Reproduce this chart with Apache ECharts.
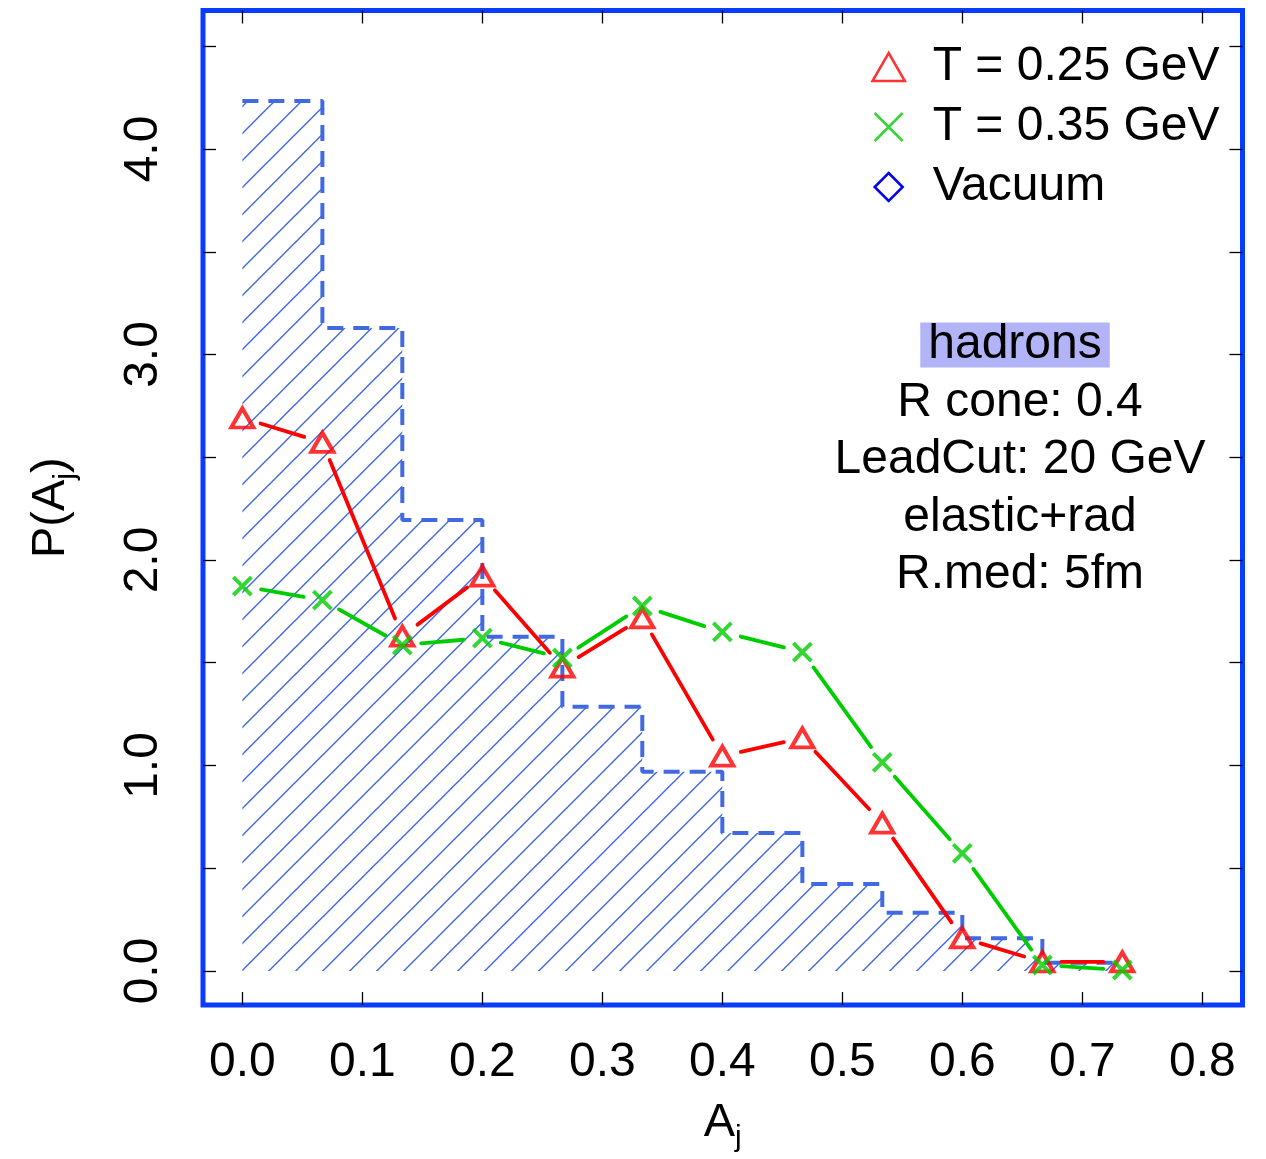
<!DOCTYPE html>
<html><head><meta charset="utf-8">
<script src="https://cdn.jsdelivr.net/npm/echarts@6/dist/echarts.min.js"></script>
<style>html,body{margin:0;padding:0;background:#fff}#c{width:1266px;height:1159px}</style>
</head><body><div id="c"></div>
<script>
// ---- data ----
const aj = [0.0000, 0.0667, 0.1333, 0.2000, 0.2667, 0.3333, 0.4000, 0.4667, 0.5333, 0.6000, 0.6667, 0.7333];
const pT025 = [2.691, 2.572, 1.630, 1.922, 1.479, 1.718, 1.046, 1.134, 0.720, 0.161, 0.044, 0.044];
const pT035 = [1.873, 1.805, 1.586, 1.620, 1.523, 1.776, 1.650, 1.552, 1.015, 0.572, 0.029, 0.005];
const vacEdges = [0.0000, 0.0667, 0.1333, 0.2000, 0.2667, 0.3333, 0.4000, 0.4667, 0.5333, 0.6000, 0.6667, 0.7333];
const vacuum = [4.234, 3.129, 2.195, 1.627, 1.286, 0.970, 0.672, 0.423, 0.284, 0.159, 0.040];
const xTicks = [0.0, 0.1, 0.2, 0.3, 0.4, 0.5, 0.6, 0.7, 0.8];
const yLabelTicks = [0, 1, 2, 3, 4];
const yMinorTicks = [0, 0.5, 1, 1.5, 2, 2.5, 3, 3.5, 4, 4.5];
const seriesNames = ['T = 0.25 GeV', 'T = 0.35 GeV', 'Vacuum'];
const notes = ['hadrons', 'R cone: 0.4', 'LeadCut: 20 GeV', 'elastic+rad', 'R.med: 5fm'];

// ---- styling helpers ----
const FONT = '"Liberation Sans", Arial, Helvetica, sans-serif';
const RED = '#ff0000', GREEN = '#00cd00', ROYAL = '#4169e1', BOX = '#0a3cff';

function hatchCanvas() {
  const s = 27, c = document.createElement('canvas');
  c.width = s; c.height = s;
  const ctx = c.getContext('2d');
  ctx.strokeStyle = ROYAL; ctx.lineWidth = 1.4;
  const off = 24.7;
  for (let k = -1; k <= 1; k++) {
    const d = off + s * k;
    ctx.beginPath(); ctx.moveTo(d - 40, 40); ctx.lineTo(d + 40, -40); ctx.stroke();
  }
  return c;
}

const histData = vacEdges.map((x, i) => [x, vacuum[Math.min(i, vacuum.length - 1)]]);
function segData(ys) {
  const d = [];
  for (let i = 0; i < aj.length - 1; i++) d.push([aj[i], ys[i], aj[i + 1], ys[i + 1]]);
  return d;
}
function gapRender(color) {
  return function (params, api) {
    const a = api.coord([api.value(0), api.value(1)]);
    const b = api.coord([api.value(2), api.value(3)]);
    const dx = b[0] - a[0], dy = b[1] - a[1];
    const L = Math.hypot(dx, dy), g = 19;
    if (L <= 2 * g) return null;
    const ux = dx / L, uy = dy / L;
    return { type: 'line', shape: { x1: a[0] + ux * g, y1: a[1] + uy * g, x2: b[0] - ux * g, y2: b[1] - uy * g },
      style: { stroke: color, lineWidth: 3.8, lineCap: 'round' } };
  };
}

const XMIN = -0.0328, XMAX = 0.8335, YMIN = -0.1655, YMAX = 4.674;
const tickStyle = { color: '#000', width: 1.3 };
const nameStyle = { fontSize: 47, fontFamily: FONT, color: '#000', lineHeight: 60,
  rich: { s: { fontSize: 30, fontFamily: FONT, color: '#000', lineHeight: 30, verticalAlign: 'bottom' } } };
const noLine = { show: false, onZero: false };

const chart = echarts.init(document.getElementById('c'), null, { renderer: 'canvas' });
chart.setOption({
  animation: false,
  backgroundColor: '#ffffff',
  grid: { left: 203, right: 23.5, top: 10.5, bottom: 154, show: true, borderColor: BOX, borderWidth: 5,
    containLabel: false, outerBoundsMode: 'none' },
  xAxis: [
    { type: 'value', position: 'bottom', min: XMIN, max: XMAX,
      axisLine: noLine, splitLine: { show: false },
      axisTick: { show: true, inside: true, length: 13, customValues: xTicks, lineStyle: tickStyle },
      axisLabel: { show: true, customValues: xTicks, formatter: v => v.toFixed(1), fontSize: 48, color: '#000', fontFamily: FONT, margin: 34 },
      name: 'A{s|j}', nameLocation: 'middle', nameGap: 88, nameTextStyle: nameStyle },
    { type: 'value', position: 'top', min: XMIN, max: XMAX,
      axisLine: noLine, splitLine: { show: false },
      axisTick: { show: true, inside: true, length: 13, customValues: xTicks, lineStyle: tickStyle },
      axisLabel: { show: false } }
  ],
  yAxis: [
    { type: 'value', position: 'left', min: YMIN, max: YMAX,
      axisLine: noLine, splitLine: { show: false },
      axisTick: { show: true, inside: true, length: 13, customValues: yMinorTicks, lineStyle: tickStyle },
      axisLabel: { show: true, customValues: yLabelTicks, formatter: v => v.toFixed(1), rotate: 90, fontSize: 48, color: '#000', fontFamily: FONT, margin: 35 },
      name: 'P(A{s|j})', nameLocation: 'middle', nameGap: 122, nameTextStyle: nameStyle },
    { type: 'value', position: 'right', min: YMIN, max: YMAX,
      axisLine: noLine, splitLine: { show: false },
      axisTick: { show: true, inside: true, length: 13, customValues: yMinorTicks, lineStyle: tickStyle },
      axisLabel: { show: false } }
  ],
  legend: {
    left: 870, top: 42, orient: 'vertical', align: 'left', padding: 0,
    itemWidth: 78, itemHeight: 28, itemGap: 10, selectedMode: false,
    textStyle: { fontSize: 48, color: '#000', fontFamily: FONT, lineHeight: 50 },
    data: [
      { name: seriesNames[0], icon: 'path://M5,0L10,8.66L0,8.66Z', itemStyle: { color: 'none', borderColor: RED, borderWidth: 2.5 } },
      { name: seriesNames[1], icon: 'path://M0,0L10,10M10,0L0,10', itemStyle: { color: 'none', borderColor: GREEN, borderWidth: 2.5 } },
      { name: seriesNames[2], icon: 'path://M5,0L10,5L5,10L0,5Z', itemStyle: { color: 'none', borderColor: '#0000ff', borderWidth: 2.5 } }
    ]
  },
  graphic: notes.map((t, i) => ({
    type: 'text', x: i === 0 ? 1015 : 1020, y: 345 + 57.5 * i, silent: true,
    style: Object.assign({ text: t, font: '48px ' + FONT, fill: '#000', align: 'center', verticalAlign: 'middle' },
      i === 0 ? { backgroundColor: '#b3b3f7', padding: [0, 8], lineHeight: 45 } : {})
  })),
  series: [
    { name: seriesNames[2], type: 'line', step: 'end', data: histData, symbol: 'none', z: 1, silent: true,
      itemStyle: { color: ROYAL },
      lineStyle: { color: ROYAL, width: 4, type: [16, 10] },
      areaStyle: { color: { image: hatchCanvas(), repeat: 'repeat' }, origin: 0, opacity: 1 } },
    { name: 'line025', type: 'custom', renderItem: gapRender(RED), data: segData(pT025), encode: { x: [0, 2], y: [1, 3] }, z: 2, silent: true },
    { name: 'line035', type: 'custom', renderItem: gapRender(GREEN), data: segData(pT035), encode: { x: [0, 2], y: [1, 3] }, z: 2, silent: true },
    { name: seriesNames[0], type: 'scatter', data: aj.map((x, i) => [x, pT025[i]]), symbol: 'triangle', symbolSize: [22, 19], z: 3, silent: true,
      itemStyle: { color: 'none', borderColor: RED, borderWidth: 4 } },
    { name: seriesNames[1], type: 'scatter', data: aj.map((x, i) => [x, pT035[i]]), symbol: 'path://M0,0L10,10M10,0L0,10', symbolSize: 18, z: 3, silent: true,
      itemStyle: { color: 'none', borderColor: GREEN, borderWidth: 4 } }
  ]
});
</script></body></html>
